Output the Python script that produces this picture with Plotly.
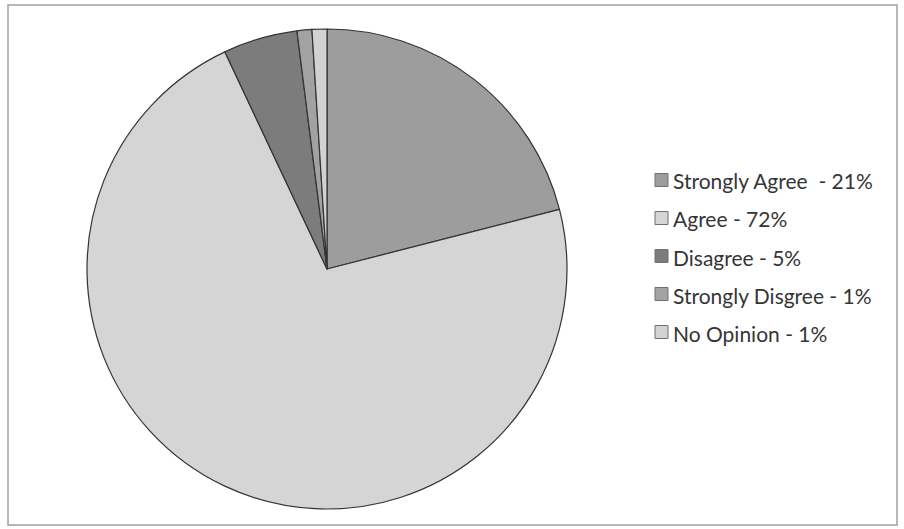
import plotly.graph_objects as go

categories = ["Strongly Agree", "Agree", "Disagree", "Strongly Disgree", "No Opinion"]
values = [21, 72, 5, 1, 1]
legend_labels = ["Strongly Agree  - 21%", "Agree - 72%", "Disagree - 5%",
                 "Strongly Disgree - 1%", "No Opinion - 1%"]
colors = ["#9d9d9d", "#d5d5d5", "#7c7c7c", "#a2a2a2", "#d2d2d2"]

W, H = 904, 529

def px(x):
    return x / W

def py(y):
    return 1 - y / H

fig = go.Figure()
fig.add_trace(go.Pie(
    labels=categories, values=values, sort=False, direction="clockwise",
    rotation=0, textinfo="none", hoverinfo="label+percent",
    marker=dict(colors=colors, line=dict(color="#333333", width=1.2)),
    domain=dict(x=[px(87), px(567)], y=[py(509), py(29)]),
    showlegend=False,
))

shapes = [dict(type="rect", xref="paper", yref="paper",
               x0=px(8), x1=px(897), y0=py(525), y1=py(5),
               line=dict(color="#a0a0a0", width=1.5), fillcolor="rgba(0,0,0,0)")]
annotations = []
row_y0, row_gap = 180, 38
for i, (lab, col) in enumerate(zip(legend_labels, colors)):
    yc = row_y0 + i * row_gap
    shapes.append(dict(type="rect", xref="paper", yref="paper",
                       x0=px(655), x1=px(668), y0=py(yc + 6.5), y1=py(yc - 6.5),
                       fillcolor=col, line=dict(color="#707070", width=1)))
    annotations.append(dict(text=lab, xref="paper", yref="paper",
                            x=px(671), y=py(yc + 1), xanchor="left", yanchor="middle",
                            showarrow=False,
                            font=dict(family="Lato", size=21, color="#353535")))

fig.update_layout(
    width=W, height=H, margin=dict(l=0, r=0, t=0, b=0),
    paper_bgcolor="white", plot_bgcolor="white",
    shapes=shapes, annotations=annotations,
)
fig.write_html("out.html", config={"displayModeBar": False},
               post_script="document.body.style.margin='0';document.body.style.overflow='hidden';")
